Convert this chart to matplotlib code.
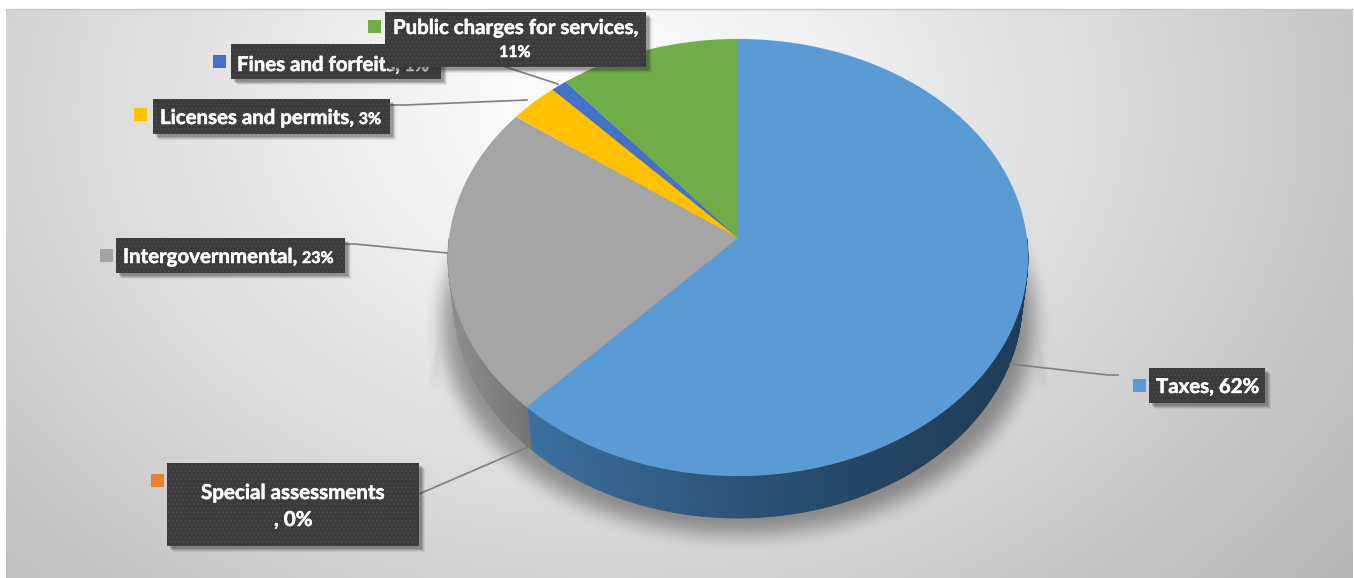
import numpy as np
import matplotlib
matplotlib.use('Agg')
from matplotlib import pyplot as plt
from matplotlib import patheffects
from matplotlib.colors import to_rgb
from matplotlib.patches import Rectangle, Polygon
from matplotlib.collections import PolyCollection

# slices go clockwise from twelve o'clock
categories = ['Taxes', 'Special assessments', 'Intergovernmental',
              'Licenses and permits', 'Fines and forfeits', 'Public charges for services']
values = [62, 0, 23, 3, 1, 11]
slice_colors = ['#5b9bd5', '#ed7d31', '#a5a5a5', '#ffc000', '#4472c4', '#70ad47']
side_colors = [('#3c70a0', '#1f3d58'), ('#b0601f', '#b0601f'), ('#8c8c8c', '#747474'),
               ('#b08500', '#b08500'), ('#2f5090', '#2f5090'), ('#4f7a32', '#4f7a32')]

WIDTH, HEIGHT = 1354, 578
CX, CY = 738, 238
DEPTH = 42


def project(theta):
    # tilted disc: near side looks bigger than far side
    u, v = np.sin(theta), np.cos(theta)
    c = 0.0892
    w = 1 + c * v
    return CX + 288.9 * u / w, CY - 216.8 * v / w


def project_bottom(theta):
    x, y = project(theta)
    return CX + (x - CX) * 0.98, y + DEPTH


def box_blur(a, n):
    k = np.ones(n) / n
    a = np.apply_along_axis(lambda r: np.convolve(r, k, mode='same'), 0, a)
    a = np.apply_along_axis(lambda r: np.convolve(r, k, mode='same'), 1, a)
    return a


def make_background():
    ys, xs = np.mgrid[0:HEIGHT, 0:WIDTH]
    d = np.sqrt(((xs - 600) / 800.0) ** 2 + ((ys - 110) / 620.0) ** 2)
    shade = 255 - 60 * d ** 1.1

    # soft shadow under the pie
    ell = (((xs - CX) / 296.0) ** 2 + ((ys - 322) / 212.0) ** 2 < 1).astype(float)
    soft = box_blur(box_blur(ell, 25), 15) * 0.36

    # faint flare on both sides of the rim, straight outer edge
    left_edge = CX - 290 - (ys - 270) * 0.17
    right_edge = CX + 290 + (ys - 270) * 0.17
    flare = ((xs > left_edge) & (xs < right_edge) & (ys > 255)).astype(float)
    flare = flare * np.clip((395 - ys) / 55.0, 0, 1) * np.clip((ys - 255) / 50.0, 0, 1)
    flare = box_blur(flare, 5) * 0.13

    alpha = np.maximum(soft, flare)
    shade = shade * (1 - alpha)

    img = np.stack([shade] * 3, axis=-1) / 255.0
    return img


def draw_shadowed_box(ax, x0, y0, x1, y1, z):
    for i, a in zip([7, 6, 5, 4], [0.08, 0.12, 0.16, 0.22]):
        ax.add_patch(Rectangle((x0 + i - 1, y0 + i - 1), x1 - x0, y1 - y0,
                               facecolor='#303030', edgecolor='none', alpha=a, zorder=z))
    ax.add_patch(Rectangle((x0, y0), x1 - x0, y1 - y0, facecolor='#3b3b3b',
                           edgecolor='none', zorder=z + 0.1))
    ax.add_patch(Rectangle((x0, y0), x1 - x0, y1 - y0, facecolor='none', edgecolor='#4c4c4c',
                           hatch='....', linewidth=0, zorder=z + 0.2))


def main():
    plt.rcParams['hatch.linewidth'] = 0.6
    fig = plt.figure(figsize=(WIDTH / 100, HEIGHT / 100), dpi=100, facecolor='white')
    ax = fig.add_axes([0, 0, 1, 1])
    ax.set_xlim(0, WIDTH)
    ax.set_ylim(HEIGHT, 0)
    ax.axis('off')

    # panel with its thin top border
    panel = ax.imshow(make_background(), extent=(0, WIDTH, HEIGHT, 0), aspect='auto', zorder=0)
    panel.set_clip_path(Rectangle((6, 9), WIDTH - 7, HEIGHT - 9, transform=ax.transData))
    ax.plot([6, WIDTH - 1], [9, 9], color='#c8c8c8', linewidth=1, zorder=1)

    fractions = np.array(values, dtype=float) / sum(values)
    edges = np.concatenate([[0], np.cumsum(fractions)]) * 2 * np.pi

    # side wall, cut into thin strips so the shade can run from left to right
    thetas = np.linspace(np.pi / 2, 3 * np.pi / 2, 361)
    quads, colors = [], []
    for a, b in zip(thetas[:-1], thetas[1:]):
        mid = (a + b) / 2
        idx = np.searchsorted(edges, mid, side='right') - 1
        idx = min(idx, len(values) - 1)
        xa, ya = project(a)
        xb, yb = project(b)
        xc, yc = project_bottom(b)
        xd, yd = project_bottom(a)
        quads.append([(xa, ya), (xb, yb), (xc, yc), (xd, yd)])
        lo, hi = side_colors[idx]
        x_mid = (xa + xb) / 2
        left_x, right_x = (528, 1022) if idx == 0 else (455, 528)
        f = np.clip((right_x - x_mid) / (right_x - left_x), 0, 1)
        if idx == 0:
            f = f ** 1.5
        colors.append(tuple(np.array(to_rgb(hi)) * (1 - f) + np.array(to_rgb(lo)) * f))
    ax.add_collection(PolyCollection(quads, facecolors=colors, edgecolors=colors,
                                     linewidths=0.5, zorder=2))

    # top face
    for i, color in enumerate(slice_colors):
        t = np.linspace(edges[i], edges[i + 1], 200)
        xs, ys = project(t)
        pts = np.column_stack([np.r_[CX, xs], np.r_[CY, ys]])
        ax.add_patch(Polygon(pts, closed=True, facecolor=color, edgecolor='none', zorder=3))

    # leader lines
    leaders = [
        ([1010, 1108, 1118], [364, 375, 375]),
        ([528, 419], [447, 494]),
        ([447, 355, 345], [253, 244, 244]),
        ([527, 405, 390], [100, 105, 105]),
        ([558, 490], [84, 62]),
    ]
    for lx, ly in leaders:
        ax.plot(lx, ly, color='#7f7f7f', linewidth=1.2, zorder=4)

    # callouts: index into the series, box, swatch, text runs with their baselines
    callouts = [
        (4, (231, 44, 441, 79), (213, 55), [([('Fines and forfeits, ', 14.7), ('1%', 12.5)], 237, 71)]),
        (5, (385, 12, 646, 67), (368, 20), [([('Public charges for services,', 14.7)], 393, 34),
                                            ([('11%', 11.5)], 499, 57)]),
        (3, (153, 99, 390, 134), (134, 108), [([('Licenses and permits, ', 14.7), ('3%', 11.5)], 160, 124)]),
        (2, (116, 238, 345, 273), (100, 249), [([('Intergovernmental, ', 14.7), ('23%', 11.5)], 123, 263)]),
        (1, (167, 463, 419, 546), (151, 474), [([('Special assessments', 14.8)], 201, 499),
                                               ([(', 0%', 14.8)], 274, 526)]),
        (0, (1149, 368, 1265, 403), (1133, 379), [([('Taxes, 62%', 14.7)], 1156, 393)]),
    ]
    fig.canvas.draw()
    stroke = [patheffects.withStroke(linewidth=0.35, foreground='white')]
    for n, (idx, box, swatch, lines) in enumerate(callouts):
        z = 5 + n
        ax.add_patch(Rectangle(swatch, 13, 13, facecolor=slice_colors[idx], edgecolor='none', zorder=z))
        draw_shadowed_box(ax, *box, z)
        for parts, x, y in lines:
            x_end = x
            for s, size in parts:
                t = ax.text(x_end, y, s, color='white', fontsize=size, fontweight='bold',
                            family='Lato', ha='left', va='baseline', zorder=z + 0.5,
                            path_effects=stroke)
                bb = t.get_window_extent(fig.canvas.get_renderer())
                x_end = ax.transData.inverted().transform((bb.x1, bb.y0))[0]

    fig.savefig('out.png', dpi=100, facecolor='white')


if __name__ == "__main__":
    main()
